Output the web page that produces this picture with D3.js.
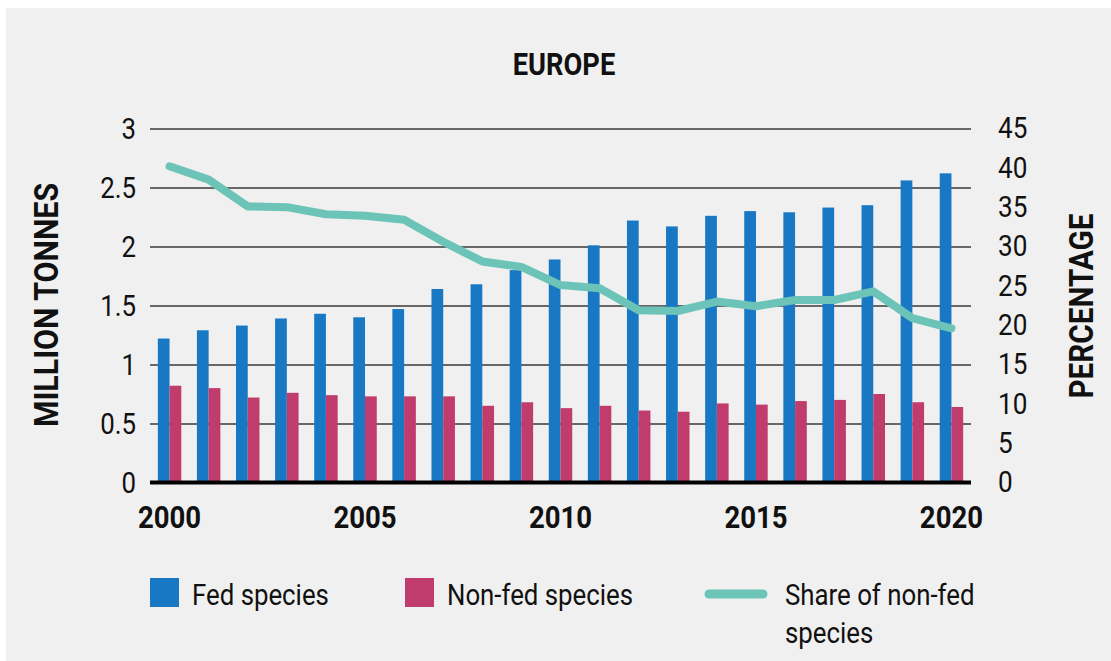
<!DOCTYPE html>
<html>
<head>
<meta charset="utf-8">
<script src="https://cdn.jsdelivr.net/npm/d3@7"></script>
<style>
  html, body { margin: 0; padding: 0; background: #fff; }
  svg { display: block; }
  text { font-family: "Roboto", sans-serif; fill: #111; }
</style>
</head>
<body>
<div id="chart"></div>
<script>
// data
const years = [2000, 2001, 2002, 2003, 2004, 2005, 2006, 2007, 2008, 2009, 2010,
  2011, 2012, 2013, 2014, 2015, 2016, 2017, 2018, 2019, 2020];
const fedSpecies = [1.22, 1.29, 1.33, 1.39, 1.43, 1.40, 1.47, 1.64, 1.68, 1.80, 1.89,
  2.01, 2.22, 2.17, 2.26, 2.30, 2.29, 2.33, 2.35, 2.56, 2.62];
const nonFedSpecies = [0.82, 0.80, 0.72, 0.76, 0.74, 0.73, 0.73, 0.73, 0.65, 0.68, 0.63,
  0.65, 0.61, 0.60, 0.67, 0.66, 0.69, 0.70, 0.75, 0.68, 0.64];
const shareNonFed = [40.2, 38.5, 35.1, 35.0, 34.1, 33.9, 33.4, 30.6, 28.1, 27.4, 25.1,
  24.7, 21.9, 21.8, 23.0, 22.4, 23.2, 23.2, 24.3, 20.9, 19.6];
const leftTicks = [0, 0.5, 1, 1.5, 2, 2.5, 3];
const rightTicks = [0, 5, 10, 15, 20, 25, 30, 35, 40, 45];
const yearTicks = [2000, 2005, 2010, 2015, 2020];

const W = 1111, H = 661;
const margin = {top: 128.5, right: 140, bottom: 178.5, left: 150},
    w = W - margin.left - margin.right,
    h = H - margin.top - margin.bottom;

const colFed = "#1878c4", colNonFed = "#c03c6d", colShare = "#6cc4b8";

// no condensed face installed, so squeeze the text horizontally
function squeeze(sel, f) {
    sel.each(function() {
        const len = this.getComputedTextLength();
        d3.select(this).attr("textLength", len * f).attr("lengthAdjust", "spacingAndGlyphs");
    });
}

const svg = d3.select("#chart")
    .append("svg")
    .attr("width", W)
    .attr("height", H);

// panel background
svg.append("rect")
    .attr("x", 6).attr("y", 8)
    .attr("width", W - 6).attr("height", H - 8)
    .attr("fill", "#f0f0f0");

const g = svg.append("g")
    .attr("transform", `translate(${margin.left},${margin.top})`);

// x band scale
const x = d3.scaleBand()
    .domain(years)
    .range([0, w])
    .paddingInner(0.4)
    .paddingOuter(0.2);

const xSub = d3.scaleBand()
    .domain(["fed", "nonfed"])
    .range([0, x.bandwidth()]);

//y-axes
const yLeft = d3.scaleLinear().domain([0, 3]).range([h, 0]);
const yRight = d3.scaleLinear().domain([0, 45]).range([h, 0]);

// gridlines + left labels
const leftAxis = g.append("g")
    .call(d3.axisLeft(yLeft).tickValues(leftTicks).tickSize(-w).tickPadding(14).tickFormat(d => d));
leftAxis.select(".domain").remove();
leftAxis.selectAll(".tick line").attr("stroke", "#3a3a3a").attr("stroke-width", 1.5);
leftAxis.selectAll(".tick text")
    .style("font-size", "30px").attr("fill", "#111")
    .call(squeeze, 0.86);

// right labels
const rightAxis = g.append("g")
    .attr("transform", `translate(${w},0)`)
    .call(d3.axisRight(yRight).tickValues(rightTicks).tickSize(0).tickPadding(27));
rightAxis.select(".domain").remove();
rightAxis.selectAll(".tick text")
    .style("font-size", "29px").attr("fill", "#111")
    .call(squeeze, 0.9);

// bars
g.selectAll(".bar-fed")
    .data(years)
    .enter().append("rect")
    .attr("class", "bar-fed")
    .attr("x", d => x(d) + xSub("fed"))
    .attr("y", (d, i) => yLeft(fedSpecies[i]))
    .attr("width", xSub.bandwidth())
    .attr("height", (d, i) => h - yLeft(fedSpecies[i]))
    .attr("fill", colFed);

g.selectAll(".bar-nonfed")
    .data(years)
    .enter().append("rect")
    .attr("class", "bar-nonfed")
    .attr("x", d => x(d) + xSub("nonfed"))
    .attr("y", (d, i) => yLeft(nonFedSpecies[i]))
    .attr("width", xSub.bandwidth())
    .attr("height", (d, i) => h - yLeft(nonFedSpecies[i]))
    .attr("fill", colNonFed);

// share line
const line = d3.line()
    .x((d, i) => x(years[i]) + x.bandwidth() / 2)
    .y(d => yRight(d));

g.append("path")
    .datum(shareNonFed)
    .attr("d", line)
    .attr("fill", "none")
    .attr("stroke", colShare)
    .attr("stroke-width", 8)
    .attr("stroke-linejoin", "round")
    .attr("stroke-linecap", "round");

// x-axis
const xAxis = g.append("g")
    .attr("transform", `translate(0,${h})`)
    .call(d3.axisBottom(x).tickValues(yearTicks).tickSize(0).tickPadding(23));
xAxis.select(".domain").remove();
xAxis.selectAll(".tick text")
    .style("font-size", "32px").style("font-weight", "bold").attr("fill", "#111")
    .call(squeeze, 0.86);

g.append("line")
    .attr("x1", 0).attr("x2", w)
    .attr("y1", h).attr("y2", h)
    .attr("stroke", "#000")
    .attr("stroke-width", 4);

// titles
svg.append("text")
    .attr("x", 564).attr("y", 75)
    .attr("text-anchor", "middle")
    .style("font-size", "31px").style("font-weight", "bold")
    .text("EUROPE")
    .call(squeeze, 0.88);

svg.append("text")
    .attr("transform", "translate(58,305) rotate(-90)")
    .attr("text-anchor", "middle")
    .style("font-size", "33px").style("font-weight", "bold")
    .text("MILLION TONNES")
    .call(squeeze, 0.92);

svg.append("text")
    .attr("transform", "translate(1093,306) rotate(-90)")
    .attr("text-anchor", "middle")
    .style("font-size", "33px").style("font-weight", "bold")
    .text("PERCENTAGE")
    .call(squeeze, 0.9);

// legend
const legend = svg.append("g");
legend.append("rect").attr("x", 150).attr("y", 578).attr("width", 29).attr("height", 29).attr("fill", colFed);
legend.append("text").attr("x", 192).attr("y", 605).style("font-size", "30px").text("Fed species");
legend.append("rect").attr("x", 405).attr("y", 578).attr("width", 29).attr("height", 29).attr("fill", colNonFed);
legend.append("text").attr("x", 447).attr("y", 605).style("font-size", "30px").text("Non-fed species");
legend.append("line")
    .attr("x1", 709).attr("x2", 763).attr("y1", 594).attr("y2", 594)
    .attr("stroke", colShare).attr("stroke-width", 9).attr("stroke-linecap", "round");
legend.append("text").attr("x", 785).attr("y", 605).style("font-size", "30px").text("Share of non-fed");
legend.append("text").attr("x", 785).attr("y", 643).style("font-size", "30px").text("species");
legend.selectAll("text").call(squeeze, 0.86);
</script>
</body>
</html>
